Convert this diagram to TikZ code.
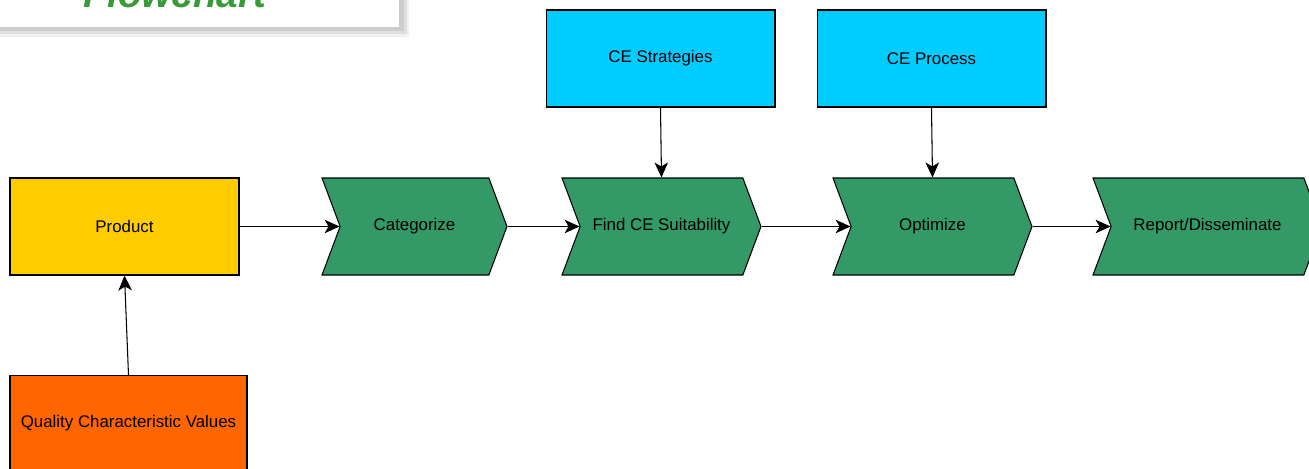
\documentclass[tikz,border=0pt]{standalone}
\usepackage{fontspec}
\setmainfont{Liberation Sans}
\usetikzlibrary{shapes.symbols,arrows.meta}
\definecolor{prodyellow}{HTML}{FFCC00}
\definecolor{qcvorange}{HTML}{FF6600}
\definecolor{cebox}{HTML}{00CCFF}
\definecolor{stepgreen}{HTML}{339966}
\definecolor{titlegreen}{HTML}{3A9A3A}
\begin{document}
\begin{tikzpicture}[x=0.02cm, y=-0.02cm,
  box/.style={draw, line width=0.6pt, minimum width=4.58cm, minimum height=1.94cm, inner sep=0pt, font=\fontsize{9.6}{11}\selectfont},
  chev/.style={draw, line width=0.6pt, fill=stepgreen, shape=signal, signal from=west, signal to=east, signal pointer angle=139, minimum height=1.94cm, inner sep=0pt, font=\fontsize{9.6}{11}\selectfont},
  flow/.style={-{Stealth[length=0.3cm, width=0.27cm, inset=0.08cm]}, line width=0.6pt}]
\clip (0,0) rectangle (1309,469);
% title box, cut by the top edge
\fill[gray!12] (-3,-33) rectangle (409,37);
\fill[gray!25] (-4,-34) rectangle (407,34);
\fill[gray!40] (-5,-35) rectangle (404,31);
\fill[white] (-10,-40) rectangle (399,27);
\node[anchor=base, text=titlegreen, font=\fontsize{22}{26}\selectfont\bfseries\itshape] (title) at (175,8){Flowchart};
% inputs
\node[box, fill=prodyellow] (product) at (124.5,226.5){Product};
\node[box, fill=qcvorange, minimum width=4.74cm, minimum height=1.9cm] (qcv) at (128.5,423){Quality Characteristic Values};
\node[box, fill=cebox] (strategies) at (660.5,58.5){CE Strategies};
\node[box, fill=cebox] (process) at (931.5,58.5){CE Process};
% process steps
\node[chev, minimum width=3.7cm] (categorize) at (414.5,226.5){Categorize};
\node[chev, minimum width=3.98cm] (suitability) at (661.5,226.5){Find CE Suitability};
\node[chev, minimum width=3.98cm] (optimize) at (932.5,226.5){Optimize};
\node[chev, minimum width=4.58cm] (report) at (1207.5,226.5){Report/Disseminate};
\draw[flow](qcv.north) -- (product.south);
\draw[flow](product.east) -- (categorize.west);
\draw[flow](categorize.east) -- (suitability.west);
\draw[flow](suitability.east) -- (optimize.west);
\draw[flow](optimize.east) -- (report.west);
\draw[flow](strategies.south) -- (suitability.north);
\draw[flow](process.south) -- (optimize.north);
\end{tikzpicture}
\end{document}
